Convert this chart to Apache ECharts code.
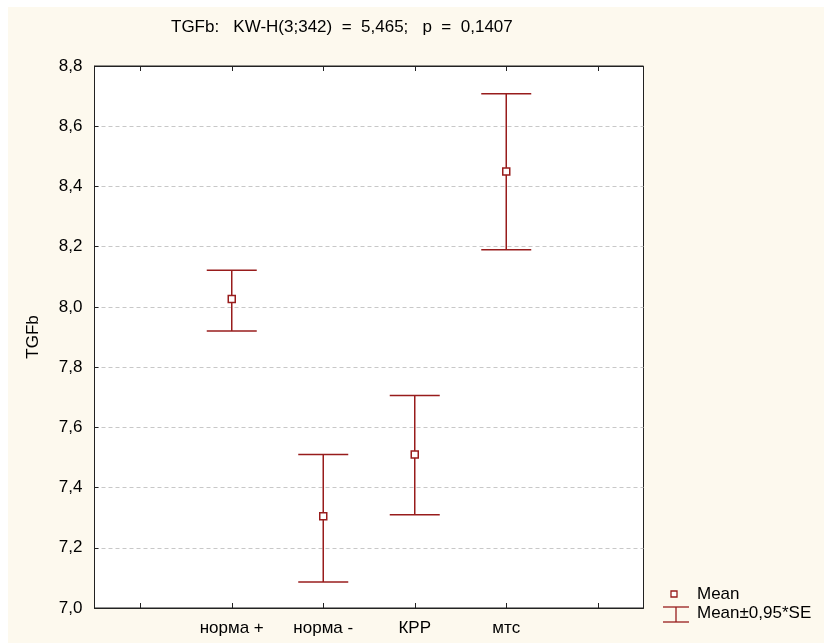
<!DOCTYPE html>
<html>
<head>
<meta charset="utf-8">
<script src="https://cdn.jsdelivr.net/npm/echarts@6/dist/echarts.min.js"></script>
<style>
html,body{margin:0;padding:0;background:#fff;}
#chart{width:824px;height:643px;}
</style>
</head>
<body>
<div id="chart"></div>
<script>
// ---- data ----
const categories = ['', 'норма +', 'норма -', 'КРР', 'мтс', ''];
const groups = ['норма +', 'норма -', 'КРР', 'мтс'];
const means = [8.026, 7.305, 7.51, 8.45];
const lowerCI = [7.92, 7.086, 7.31, 8.19];
const upperCI = [8.122, 7.51, 7.706, 8.708];
const yMin = 7.0, yMax = 8.8, yStep = 0.2;
const titleText = 'TGFb:   KW-H(3;342)  =  5,465;   p  =  0,1407';
const yName = 'TGFb';
const legendMean = 'Mean';
const legendSE = 'Mean±0,95*SE';

const FONT = '"Liberation Sans", Arial, sans-serif';
const RED = '#981c1c';
const FS = 17;

const errData = groups.map((g, i) => [categories.indexOf(g), lowerCI[i], upperCI[i]]);
const meanData = groups.map((g, i) => [categories.indexOf(g), means[i]]);

const chart = echarts.init(document.getElementById('chart'), null, {renderer: 'canvas'});

const option = {
  backgroundColor: '#ffffff',
  animation: false,
  title: {
    text: titleText,
    left: 166, top: 14,
    textStyle: {fontFamily: FONT, fontSize: FS, fontWeight: 'normal', color: '#000'}
  },
  graphic: [
    {type: 'rect', z: -10, silent: true, shape: {x: 8, y: 7, width: 816, height: 636}, style: {fill: '#fdf9ee'}},
    // legend
    {type: 'rect', shape: {x: 671, y: 591, width: 6, height: 6}, style: {fill: '#fff', stroke: RED, lineWidth: 1.3}},
    {type: 'text', x: 697, y: 594, style: {text: legendMean, font: FS + 'px ' + FONT, fill: '#000', textVerticalAlign: 'middle'}},
    {type: 'line', shape: {x1: 663, y1: 607, x2: 689, y2: 607}, style: {stroke: RED, lineWidth: 1.3}},
    {type: 'line', shape: {x1: 676, y1: 607, x2: 676, y2: 622}, style: {stroke: RED, lineWidth: 1.3}},
    {type: 'line', shape: {x1: 663, y1: 622, x2: 689, y2: 622}, style: {stroke: RED, lineWidth: 1.3}},
    {type: 'text', x: 697, y: 613, style: {text: legendSE, font: FS + 'px ' + FONT, fill: '#000', textVerticalAlign: 'middle'}}
  ],
  grid: {
    left: 94.5, right: 180.5, top: 66, bottom: 35,
    show: true, backgroundColor: '#ffffff', borderColor: '#222', borderWidth: 1
  },
  xAxis: [
    {
      type: 'category', data: categories, boundaryGap: true, position: 'bottom',
      axisLine: {show: true, lineStyle: {color: '#222', width: 1}},
      axisTick: {show: true, inside: true, alignWithLabel: true, length: 5, lineStyle: {color: '#222'}},
      axisLabel: {interval: 0, margin: 12, fontFamily: FONT, fontSize: FS, color: '#000'},
      splitLine: {show: false}
    },
    {
      type: 'category', data: categories, boundaryGap: true, position: 'top',
      axisLine: {show: true, lineStyle: {color: '#222', width: 1}},
      axisTick: {show: true, inside: true, alignWithLabel: true, length: 5, lineStyle: {color: '#222'}},
      axisLabel: {show: false},
      splitLine: {show: false}
    }
  ],
  yAxis: {
    type: 'value', min: yMin, max: yMax, interval: yStep,
    name: yName, nameLocation: 'middle', nameGap: 53,
    nameTextStyle: {fontFamily: FONT, fontSize: FS, color: '#000'},
    axisLine: {show: true, lineStyle: {color: '#222', width: 1}},
    axisTick: {show: true, inside: true, length: 4, lineStyle: {color: '#222'}},
    axisLabel: {margin: 12, fontFamily: FONT, fontSize: FS, color: '#000',
      formatter: v => v.toFixed(1).replace('.', ',')},
    splitLine: {show: true, lineStyle: {color: '#c8c8c8', type: [4, 3], width: 1}}
  },
  series: [
    {
      type: 'custom', name: legendSE,
      data: errData,
      encode: {x: 0, y: [1, 2]},
      renderItem: function (params, api) {
        const x = api.value(0);
        const lo = api.coord([x, api.value(1)]);
        const hi = api.coord([x, api.value(2)]);
        const hw = 25;
        const st = {stroke: RED, lineWidth: 1.5};
        return {
          type: 'group',
          children: [
            {type: 'line', shape: {x1: lo[0], y1: lo[1], x2: hi[0], y2: hi[1]}, style: st},
            {type: 'line', shape: {x1: hi[0] - hw, y1: hi[1], x2: hi[0] + hw, y2: hi[1]}, style: st},
            {type: 'line', shape: {x1: lo[0] - hw, y1: lo[1], x2: lo[0] + hw, y2: lo[1]}, style: st}
          ]
        };
      },
      z: 2
    },
    {
      type: 'scatter', name: legendMean,
      data: meanData,
      symbol: 'rect', symbolSize: 7,
      itemStyle: {color: '#ffffff', borderColor: RED, borderWidth: 1.5, opacity: 1},
      z: 3
    }
  ]
};
chart.setOption(option);
</script>
</body>
</html>
